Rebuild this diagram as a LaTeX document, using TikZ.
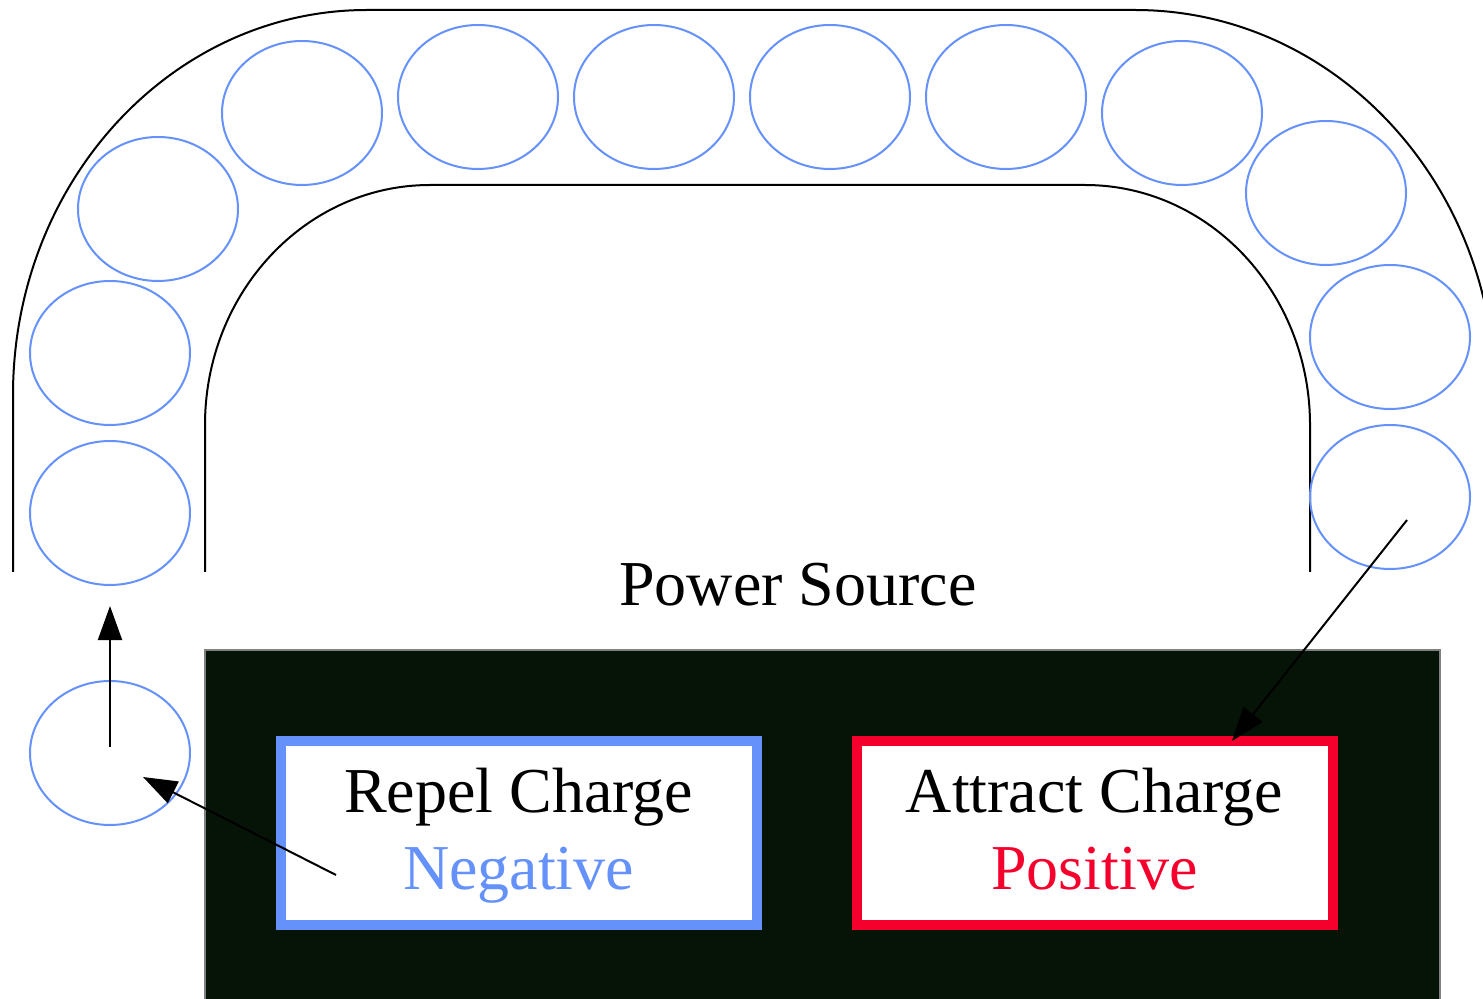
\documentclass[tikz,border=0pt]{standalone}
\usepackage{fontspec}
\setmainfont{Liberation Serif}
\usetikzlibrary{arrows.meta,shapes.geometric}
\definecolor{ballblue}{RGB}{100,145,250}
\definecolor{posred}{RGB}{245,0,45}
\definecolor{srcfill}{RGB}{6,20,8}
\tikzstyle{ball} = [ellipse, draw=ballblue, line width=1pt,
    minimum width=80pt, minimum height=72pt, inner sep=0pt]
\tikzstyle{chargebox} = [rectangle, fill=white, line width=5pt, align=center,
    minimum width=238pt, minimum height=92pt, text depth=4pt,
    font=\fontsize{32}{38.5}\selectfont]
\tikzstyle{track} = [line width=1pt]

\begin{document}
\begin{tikzpicture}[x=0.5pt,y=-0.5pt,->,>={Triangle[length=17pt,width=12pt]},
                    line width=1pt]
  \useasboundingbox (0,0) rectangle (1483,999);
  \clip (0,0) rectangle (1483,999);

  % track walls
  \draw[track,-] (13,572) -- (13,395) arc[start angle=180,end angle=270,x radius=354,y radius=385]
        -- (1135,10) arc[start angle=270,end angle=360,x radius=360,y radius=385] -- (1495,572);
  \draw[track,-] (205,572) -- (205,425) arc[start angle=180,end angle=270,x radius=225,y radius=240]
        -- (1085,185) arc[start angle=270,end angle=360,x radius=225,y radius=240] -- (1310,572);

  % balls in the track
  \node[ball] (b1)  at (110,513)  {};
  \node[ball] (b2)  at (110,353)  {};
  \node[ball] (b3)  at (158,209)  {};
  \node[ball] (b4)  at (302,113)  {};
  \node[ball] (b5)  at (478,97)   {};
  \node[ball] (b6)  at (654,97)   {};
  \node[ball] (b7)  at (830,97)   {};
  \node[ball] (b8)  at (1006,97)  {};
  \node[ball] (b9)  at (1182,113) {};
  \node[ball] (b10) at (1326,193) {};
  \node[ball] (b11) at (1390,337) {};
  \node[ball] (b12) at (1390,497) {};
  \node[ball] (b0)  at (110,753)  {};

  % power source
  \node[anchor=base,font=\fontsize{32}{38}\selectfont] (src) at (798,606) {Power Source};
  \draw[-,draw=gray,fill=srcfill] (205,650) rectangle (1440,1010);

  \node[chargebox,draw=ballblue] (neg) at (518.5,833) {Repel Charge\\\textcolor{ballblue}{Negative}};
  \node[chargebox,draw=posred]   (pos) at (1094.5,833) {Attract Charge\\\textcolor{posred}{Positive}};

  \coordinate (negout) at (336,875);
  \coordinate (b0in)   at (143,777);
  \coordinate (b12out) at (1407,520);
  \coordinate (posin)  at (1232,741);

  \draw[shorten <=3pt,shorten >=10pt] (b0.center) -- (b1.south);
  \draw (negout) -- (b0in);
  \draw (b12out) -- (posin);
\end{tikzpicture}
\end{document}
